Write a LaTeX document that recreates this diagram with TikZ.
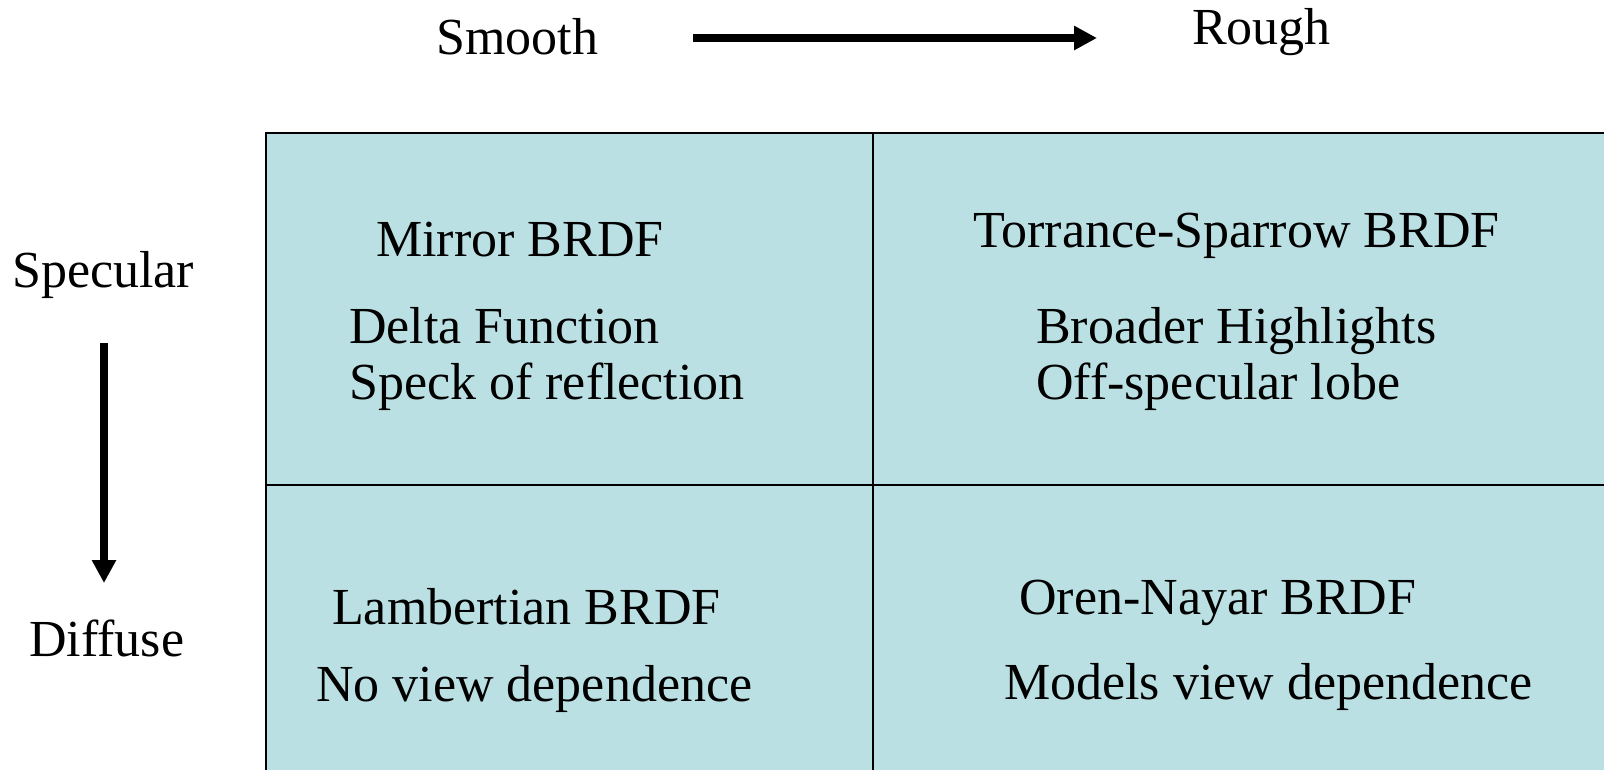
\documentclass[tikz,border=0pt]{standalone}
\usepackage{fontspec}
\setmainfont{Liberation Serif}
\usetikzlibrary{arrows.meta}
\definecolor{cellblue}{RGB}{187,224,227}
\tikzset{
	cell text/.style={anchor=base west, inner sep=0pt, font=\fontsize{52}{62}\selectfont},
	fat arrow/.style={line width=8pt, -{Triangle[length=23pt,width=23pt]}},
	grid line/.style={line width=2pt}
}

\begin{document}
\begin{tikzpicture}[x=1pt,y=-1pt]
		\useasboundingbox (0,0) rectangle (1604,769);
		\clip (0,0) rectangle (1604,769);
		\fill[cellblue] (266,133) rectangle (1610,775);
		\draw[grid line] (1610,133) -- (266,133) -- (266,775);
		\draw[grid line] (873,133) -- (873,775);
		\draw[grid line] (266,485) -- (1610,485);

		\node[cell text] (smooth) at (436,54) {Smooth};
		\node[cell text] (rough) at (1192,44) {Rough};
		\node[cell text] (specular) at (12,287) {Specular};
		\node[cell text] (diffuse) at (29,656) {Diffuse};

		\node[cell text] (mirror) at (376,256) {Mirror BRDF};
		\node[cell text] (delta) at (349,343) {Delta Function};
		\node[cell text] (speck) at (349,399) {Speck of reflection};
		\node[cell text] (torrance) at (973,247) {Torrance-Sparrow BRDF};
		\node[cell text] (broader) at (1036,343) {Broader Highlights};
		\node[cell text] (offspec) at (1036,399) {Off-specular lobe};
		\node[cell text] (lambert) at (332,624) {Lambertian BRDF};
		\node[cell text] (noview) at (316,701) {No view dependence};
		\node[cell text] (oren) at (1019,614) {Oren-Nayar BRDF};
		\node[cell text] (models) at (1004,699) {Models view dependence};

		\coordinate (rough axis tail) at (693,38);
		\coordinate (rough axis tip) at (1097,38);
		\coordinate (diffuse axis tail) at (104,343);
		\coordinate (diffuse axis tip) at (104,583);
		\draw[fat arrow] (rough axis tail) -- (rough axis tip);
		\draw[fat arrow] (diffuse axis tail) -- (diffuse axis tip);
\end{tikzpicture}
\end{document}
